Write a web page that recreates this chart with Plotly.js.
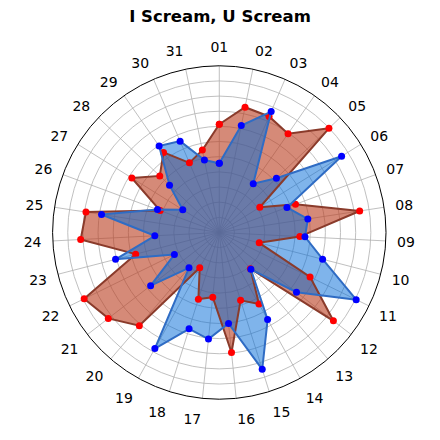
<!DOCTYPE html>
<html>
<head>
<meta charset="utf-8">
<script src="https://cdn.plot.ly/plotly-3.0.1.min.js"></script>
<style>html,body{margin:0;padding:0;background:#fff;}#chart{width:440px;height:440px;}</style>
</head>
<body>
<div id="chart"></div>
<script>
const categories = ["01","02","03","04","05","06","07","08","09","10","11","12","13","14","15","16","17","18","19","20","21","22","23","24","25","26","27","28","29","30","31"];
const redValues = [7.14,8.44,8.33,7.94,9.98,3.15,5.36,9.37,5.32,2.72,6.67,9.52,3.15,5.40,4.69,7.96,4.29,4.61,2.66,8.10,9.26,9.93,5.70,9.16,8.90,4.16,6.80,5.42,6.44,5.00,5.55];
const blueValues = [4.57,7.20,8.68,3.92,5.20,9.51,4.76,5.91,5.66,7.04,10.06,6.44,3.20,6.57,9.46,6.03,7.07,6.66,8.76,3.07,5.73,3.30,7.07,4.26,7.86,4.35,2.84,4.53,6.95,6.56,4.88];
const titleText = "I Scream, U Scream";

function closed(arr){ return arr.concat([arr[0]]); }

function fillTrace(vals, color){
  return {
    type: "scatterpolar", r: closed(vals), theta: closed(categories),
    mode: "lines", fill: "toself", fillcolor: color,
    line: {color: "rgba(0,0,0,0)", width: 0},
    showlegend: false, hoverinfo: "skip"
  };
}
function lineTrace(vals, lc, mc){
  return {
    type: "scatterpolar", r: closed(vals), theta: closed(categories),
    mode: "lines+markers",
    line: {color: lc, width: 2},
    marker: {color: mc, size: 7},
    showlegend: false, hoverinfo: "skip"
  };
}

const traces = [
  fillTrace(redValues, "rgba(185,60,30,0.6)"),
  fillTrace(blueValues, "rgba(0,105,215,0.5)"),
  lineTrace(redValues, "#8a3b2b", "#ff0000"),
  lineTrace(blueValues, "#2f6cc4", "#0000ff")
];

const layout = {
  width: 440,
  height: 440,
  margin: {l: 0, r: 0, t: 0, b: 0},
  paper_bgcolor: "#ffffff",
  font: {family: "DejaVu Sans", color: "#000000", size: 14},
  title: {text: "<b>" + titleText + "</b>", x: 0.5, xanchor: "center", y: 0.964, yanchor: "middle", font: {family: "DejaVu Sans", size: 16.5, color: "#000"}},
  showlegend: false,
  polar: {
    domain: {x: [0.1195, 0.8773], y: [0.0927, 0.8505]},
    bgcolor: "#ffffff",
    radialaxis: {
      range: [0, 11],
      dtick: 1,
      tick0: 0,
      showticklabels: false,
      ticks: "",
      showline: false,
      gridcolor: "#b0b0b0",
      gridwidth: 0.8,
      layer: "above traces"
    },
    angularaxis: {
      type: "category",
      categoryorder: "array",
      categoryarray: categories,
      direction: "clockwise",
      rotation: 90,
      ticks: "outside",
      ticklen: 8,
      tickcolor: "rgba(0,0,0,0)",
      showline: true,
      linecolor: "#000000",
      linewidth: 1,
      gridcolor: "#b0b0b0",
      gridwidth: 0.8,
      tickfont: {family: "DejaVu Sans", size: 14, color: "#000"},
      layer: "above traces"
    }
  }
};

Plotly.newPlot("chart", traces, layout, {staticPlot: true, displayModeBar: false});
</script>
</body>
</html>
